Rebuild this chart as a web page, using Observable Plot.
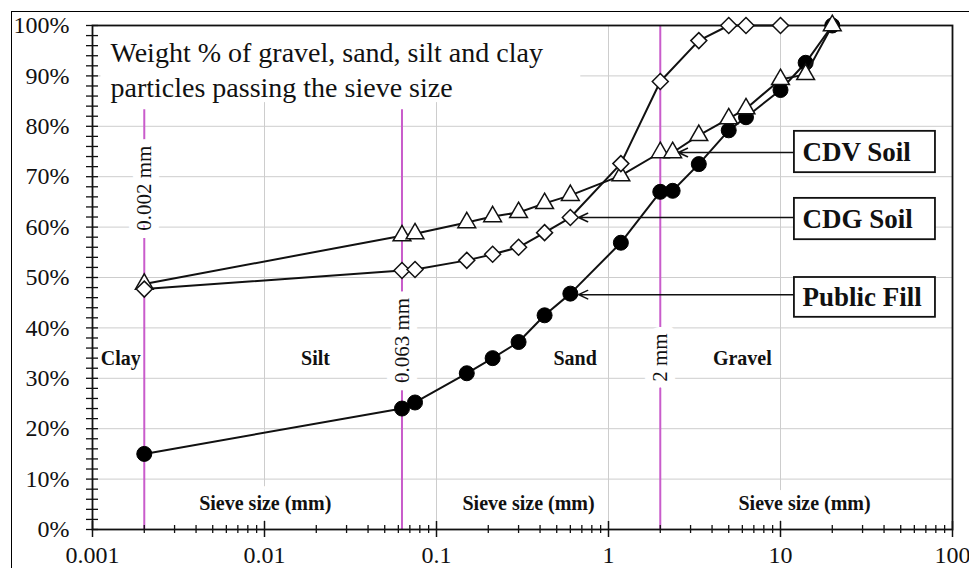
<!DOCTYPE html>
<html><head><meta charset="utf-8">
<script src="https://cdn.jsdelivr.net/npm/d3@7"></script>
<script src="https://cdn.jsdelivr.net/npm/@observablehq/plot@0.6"></script>
<style>
body{margin:0;background:#fff;}
#wrap{position:relative;width:969px;height:568px;overflow:hidden;}
#border{position:absolute;left:11px;top:11px;width:1000px;height:1000px;border:1.5px solid #000;box-sizing:border-box;pointer-events:none;}
</style></head><body>
<div id="wrap"><div id="chart"></div><div id="border"></div></div>
<script>
// ---- Data (sieve size in mm, % passing) ----
const publicFillSize = [0.002, 0.063, 0.075, 0.15, 0.212, 0.3, 0.425, 0.6, 1.18, 2, 2.36, 3.35, 5, 6.3, 10, 14, 20];
const publicFillPass = [15, 24, 25.2, 31, 34, 37.2, 42.5, 46.8, 56.9, 67, 67.2, 72.5, 79.2, 81.8, 87.2, 92.6, 100];
const cdvSize = [0.002, 0.063, 0.075, 0.15, 0.212, 0.3, 0.425, 0.6, 1.18, 2, 2.36, 3.35, 5, 6.3, 10, 14, 20];
const cdvPass = [48.7, 58.3, 58.7, 60.9, 62.1, 62.9, 64.7, 66.3, 70.2, 74.8, 74.8, 78.2, 81.5, 83.5, 89.3, 90.3, 100];
const cdgSize = [0.002, 0.063, 0.075, 0.15, 0.212, 0.3, 0.425, 0.6, 1.18, 2, 3.35, 5, 6.3, 10];
const cdgPass = [47.7, 51.4, 51.6, 53.4, 54.6, 56, 58.9, 61.9, 72.6, 88.9, 97, 100, 100, 100];

// ---- Tick values ----
const xMajorTicks = [0.001, 0.01, 0.1, 1, 10, 100];
const xMinorTicks = [2,3,4,5,6,7,8,9].flatMap(m => [0.001, 0.01, 0.1, 1, 10].map(d => m * d));
const yMajorTicks = [0, 10, 20, 30, 40, 50, 60, 70, 80, 90, 100];
const yMinorTicks = d3.range(0, 101, 2);
const xGrid = [0.01, 0.1, 1, 10];
const yGrid = [10, 20, 30, 40, 50, 60, 70, 80, 90];

// ---- Annotation texts ----
const titleText = "Weight % of gravel, sand, silt and clay\nparticles passing the sieve size";
const boundarySizes = [0.002, 0.063, 2];
const boundaryLabels = ["0.002 mm", "0.063 mm", "2 mm"];
const zoneNames = ["Clay", "Silt", "Sand", "Gravel"];
const sieveLabel = "Sieve size (mm)";
const legendNames = ["CDV Soil", "CDG Soil", "Public Fill"];

// ---- Annotation placement (data units) ----
const boundaryTop = [83.3, 83.3, 100];
const boundaryLabelY = [67.7, 37.5, 34.1];
const zoneX = [0.00146, 0.0198, 0.64, 6.0];
const zoneY = 34;
const sieveLabelX = [0.0101, 0.343, 13.8];
const sieveLabelY = 5.2;
const titleBox = {x1: 0.00112, x2: 0.69, y1: 84.7, y2: 100};
const legendX1 = 12.05, legendX2 = 79.6;
const legendY1 = [79.0, 65.7, 50.0];
const legendY2 = [70.8, 57.5, 42.1];
const arrowY = [74.8, 61.9, 46.6];
const arrowTargetX = [2.55, 0.67, 0.67];

const FONT = "Liberation Serif";
const MAGENTA = "#c95ccb";
const GRID = "#cdcdcd";

const pf = publicFillSize.map((s, i) => ({s, p: publicFillPass[i]}));
const cdv = cdvSize.map((s, i) => ({s, p: cdvPass[i]}));
const cdg = cdgSize.map((s, i) => ({s, p: cdgPass[i]}));
const idx3 = [0, 1, 2];

const chart = Plot.plot({
  width: 969,
  height: 568,
  marginLeft: 92,
  marginRight: 17,
  marginTop: 25,
  marginBottom: 39,
  style: {fontFamily: FONT, fontSize: "24px", color: "#000", background: "transparent"},
  x: {type: "log", domain: [0.001, 100], axis: null},
  y: {domain: [0, 100], axis: null},
  marks: [
    Plot.gridY(yGrid, {stroke: GRID, strokeOpacity: 1, strokeWidth: 1}),
    Plot.gridX(xGrid, {stroke: GRID, strokeOpacity: 1, strokeWidth: 1}),
    Plot.rect([titleBox], {x1: "x1", x2: "x2", y1: "y1", y2: "y2", fill: "white"}),
    Plot.ruleX(idx3, {x: i => boundarySizes[i], y1: 0, y2: i => boundaryTop[i], stroke: MAGENTA, strokeWidth: 2}),
    Plot.text(idx3, {x: i => boundarySizes[i], y: i => boundaryLabelY[i], text: i => boundaryLabels[i], rotate: -90,
      fontSize: 21, fill: "#111", stroke: "white", strokeWidth: 16}),
    Plot.text(sieveLabelX, {x: d => d, y: sieveLabelY, text: () => sieveLabel, fontSize: 20, fontWeight: "bold",
      fill: "#111", stroke: "white", strokeWidth: 20}),
    Plot.text(zoneNames, {x: (d, i) => zoneX[i], y: zoneY, text: d => d, fontSize: 20, fontWeight: "bold", fill: "#111"}),
    Plot.frame({stroke: "#111", strokeWidth: 1.8}),
    // y axis: minor crossing ticks + labels
    Plot.axisY({ticks: yMinorTicks, tickSize: 12, dx: 6, tickFormat: () => "", label: null, stroke: "#111", strokeWidth: 1.3}),
    Plot.axisY({ticks: yMajorTicks, tickSize: 0, tickPadding: 23, tickFormat: d => d + "%", label: null, fontSize: 24, fill: "#111"}),
    // x axis: minor and major crossing ticks + labels
    Plot.axisX({ticks: xMinorTicks, tickSize: 8, dy: -4, tickFormat: () => "", label: null, stroke: "#111", strokeWidth: 1.3}),
    Plot.axisX({ticks: xMajorTicks, tickSize: 16, dy: -8, tickFormat: () => "", label: null, stroke: "#111", strokeWidth: 1.5}),
    Plot.axisX({ticks: xMajorTicks, tickSize: 0, tickPadding: 16, tickFormat: d => String(d), label: null, fontSize: 24, fill: "#111"}),
    // data
    Plot.line(pf, {x: "s", y: "p", stroke: "#111", strokeWidth: 2}),
    Plot.dot(pf, {x: "s", y: "p", r: 7.5, fill: "#000", stroke: "#000", strokeWidth: 1}),
    Plot.line(cdv, {x: "s", y: "p", stroke: "#111", strokeWidth: 2}),
    Plot.dot(cdv, {x: "s", y: "p", symbol: "triangle", r: 6.6, fill: "white", stroke: "#111", strokeWidth: 1.5}),
    Plot.line(cdg, {x: "s", y: "p", stroke: "#111", strokeWidth: 2}),
    Plot.dot(cdg, {x: "s", y: "p", symbol: "diamond2", r: 7.2, fill: "white", stroke: "#111", strokeWidth: 1.5}),
    // title
    Plot.text([titleText], {frameAnchor: "top-left", text: d => d, dx: 18, dy: 12, textAnchor: "start", lineAnchor: "top",
      fontSize: 28, lineHeight: 1.25, fill: "#111"}),
    // legend callouts
    Plot.arrow(idx3, {x1: legendX1, y1: i => arrowY[i], x2: i => arrowTargetX[i], y2: i => arrowY[i],
      stroke: "#111", strokeWidth: 1.5, headLength: 10, headAngle: 50}),
    Plot.rect(idx3, {x1: legendX1, x2: legendX2, y1: i => legendY1[i], y2: i => legendY2[i], fill: "white", stroke: "#111", strokeWidth: 1.8}),
    Plot.text(idx3, {x: legendX1, y: i => (legendY1[i] + legendY2[i]) / 2, text: i => legendNames[i], dx: 8, textAnchor: "start",
      fontSize: 27, fontWeight: "bold", fill: "#111"})
  ]
});
document.getElementById("chart").appendChild(chart);
</script>
</body></html>
